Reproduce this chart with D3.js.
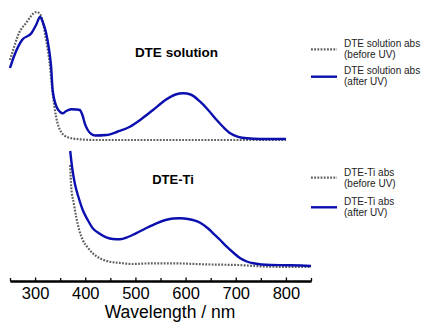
<!DOCTYPE html>
<html>
<head>
<meta charset="utf-8">
<script src="https://cdn.jsdelivr.net/npm/d3@7"></script>
<style>
  body { margin: 0; background: #fff; }
  text { font-family: "Liberation Sans", Arial, Helvetica, sans-serif; }
</style>
</head>
<body>
<div id="chart"></div>
<script>
var w = 425;
var h = 322;

// wavelength (nm) and absorbance (arbitrary units)
const solBeforeWl  = [250, 255, 268, 282, 298, 303, 311, 322, 329, 335, 342, 352, 365, 389, 420, 500, 600, 700, 800];
const solBeforeAbs = [0.80, 0.88, 1.07, 1.17, 1.27, 1.28, 1.25, 1.00, 0.77, 0.47, 0.23, 0.08, 0.027, 0.007, 0, 0, 0, 0, 0];

const solAfterWl  = [250, 259, 274, 293, 302, 310, 316, 322, 328, 332, 335, 343, 350, 355, 362, 372, 382, 389, 395, 399, 405, 412, 420, 442, 465, 489, 512, 535, 560, 580, 595, 610, 629, 645, 662, 675, 689, 705, 722, 750, 800];
const solAfterAbs = [0.72, 0.85, 1.00, 1.07, 1.15, 1.23, 1.17, 1.07, 0.90, 0.73, 0.50, 0.33, 0.28, 0.267, 0.29, 0.307, 0.305, 0.30, 0.24, 0.167, 0.10, 0.06, 0.045, 0.05, 0.085, 0.133, 0.21, 0.30, 0.40, 0.455, 0.467, 0.455, 0.383, 0.30, 0.20, 0.13, 0.067, 0.032, 0.017, 0.01, 0.01];

const tiBeforeWl  = [370, 372, 377, 382, 388, 395, 405, 415, 430, 449, 470, 495, 520, 569, 650, 702, 769, 850];
const tiBeforeAbs = [1.01, 0.79, 0.63, 0.49, 0.36, 0.26, 0.185, 0.127, 0.075, 0.043, 0.03, 0.02, 0.025, 0.027, 0.015, 0.01, -0.007, -0.01];

const tiAfterWl  = [370, 374, 379, 387, 395, 405, 415, 428, 442, 455, 469, 485, 501, 520, 542, 560, 575, 589, 605, 629, 645, 655, 669, 682, 696, 709, 722, 735, 769, 802, 830, 850];
const tiAfterAbs = [1.15, 0.98, 0.83, 0.68, 0.56, 0.46, 0.377, 0.325, 0.287, 0.27, 0.267, 0.29, 0.327, 0.375, 0.427, 0.46, 0.475, 0.477, 0.47, 0.433, 0.375, 0.327, 0.26, 0.193, 0.13, 0.077, 0.045, 0.027, 0.01, 0.008, 0.005, 0];

// vertical offsets of the two stacked spectra
const solOffset = 1.41;
const tiOffset = 0.15;

const majorTicks = [300, 400, 500, 600, 700, 800];
const minorTicks = [250, 350, 450, 550, 650, 750, 850];

const svg = d3.select("#chart")
    .append("svg")
    .attr("width", w)
    .attr("height", h);

const x = d3.scaleLinear().domain([250, 850]).range([10, 311]);
const y = d3.scaleLinear().domain([0, 2.81]).range([281, 0]);

function series(wl, abs, off) {
    return wl.map((d, i) => [d, abs[i] + off]);
}

const line = d3.line()
    .x(d => x(d[0]))
    .y(d => y(d[1]))
    .curve(d3.curveMonotoneX);

const BLUE = "#0a0fae";
const GREY = "#5f5f5f";

//BEFORE UV - DOTTED
[[solBeforeWl, solBeforeAbs, solOffset], [tiBeforeWl, tiBeforeAbs, tiOffset]].forEach(function(s){
    svg.append("path")
        .datum(series(s[0], s[1], s[2]))
        .attr("d", line)
        .attr("fill", "none")
        .attr("stroke", GREY)
        .attr("stroke-width", 2.2)
        .attr("stroke-dasharray", "1.8,1.4");
});

//AFTER UV - SOLID
[[solAfterWl, solAfterAbs, solOffset], [tiAfterWl, tiAfterAbs, tiOffset]].forEach(function(s){
    svg.append("path")
        .datum(series(s[0], s[1], s[2]))
        .attr("d", line)
        .attr("fill", "none")
        .attr("stroke", BLUE)
        .attr("stroke-width", 2.4);
});

//X AXIS
const axisG = svg.append("g").attr("transform", "translate(0," + y(0) + ")");
axisG.call(d3.axisBottom(x).tickValues(majorTicks).tickSizeInner(-3.5).tickSizeOuter(0).tickPadding(6.5));
axisG.append("g").call(d3.axisBottom(x).tickValues(minorTicks).tickSizeInner(-3).tickSizeOuter(0).tickFormat(""));
axisG.selectAll(".domain").attr("stroke", "#000").attr("stroke-width", 1.8);
axisG.selectAll(".tick line").attr("stroke", "#000").attr("stroke-width", 1.3);
axisG.selectAll("text")
    .style("font-family", '"Liberation Sans", Arial, sans-serif')
    .style("font-size", "16.5px")
    .attr("fill", "#000");

svg.append("text")
    .attr("x", 170)
    .attr("y", 317.5)
    .attr("text-anchor", "middle")
    .style("font-size", "17.5px")
    .text("Wavelength / nm");

//PANEL TITLES
svg.append("text")
    .attr("x", 176.5).attr("y", 56.5)
    .attr("text-anchor", "middle")
    .style("font-size", "13.5px").style("font-weight", "bold")
    .text("DTE solution");
svg.append("text")
    .attr("x", 173).attr("y", 183.5)
    .attr("text-anchor", "middle")
    .style("font-size", "13px").style("font-weight", "bold")
    .text("DTE-Ti");

//LEGENDS
const legends = [
    {y: 49.3, dotted: true,  l1: "DTE solution abs", l2: "(before UV)", b: 47},
    {y: 76.7, dotted: false, l1: "DTE solution abs", l2: "(after UV)", b: 74},
    {y: 177.7, dotted: true,  l1: "DTE-Ti abs", l2: "(before UV)", b: 176},
    {y: 207.3, dotted: false, l1: "DTE-Ti abs", l2: "(after UV)", b: 205}
];
legends.forEach(function(d){
    svg.append("line")
        .attr("x1", 311).attr("x2", 337)
        .attr("y1", d.y).attr("y2", d.y)
        .attr("stroke", d.dotted ? GREY : BLUE)
        .attr("stroke-width", d.dotted ? 2.2 : 2.4)
        .attr("stroke-dasharray", d.dotted ? "1.8,1.4" : null);
    const t = svg.append("text")
        .attr("x", 344)
        .style("font-size", "10px")
        .attr("fill", "#222");
    t.append("tspan").attr("x", 344).attr("y", d.b).text(d.l1);
    t.append("tspan").attr("x", 344).attr("y", d.b + 10.5).text(d.l2);
});
</script>
</body>
</html>
